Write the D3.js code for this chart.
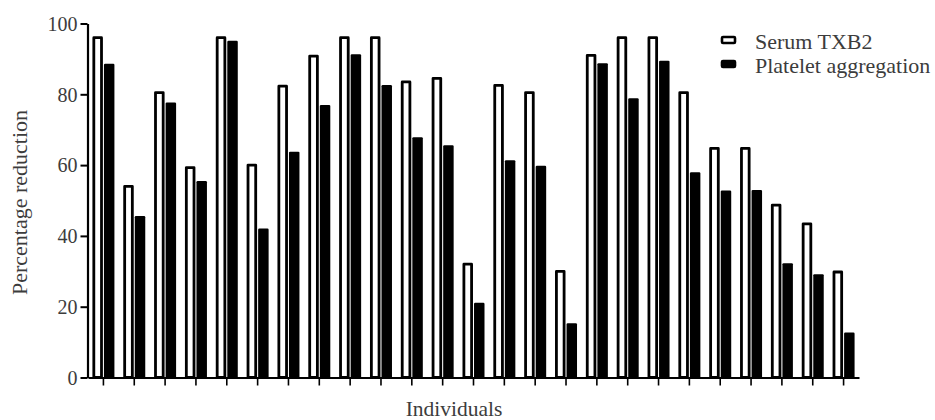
<!DOCTYPE html>
<html>
<head>
<meta charset="utf-8">
<script src="https://cdn.jsdelivr.net/npm/d3@7"></script>
<style>
  html, body { margin: 0; padding: 0; background: #fff; }
</style>
</head>
<body>
<svg id="chart" width="935" height="420"></svg>
<script>
// Percentage reduction per individual
const individuals = d3.range(1, 26).map(String);
const serumTXB2 = [96, 54, 80.5, 59.3, 96, 60, 82.3, 90.8, 96, 96, 83.5, 84.5, 32, 82.5, 80.5, 30, 91, 96, 96, 80.5, 64.7, 64.7, 48.7, 43.4, 29.8];
const plateletAggregation = [88.6, 45.6, 77.7, 55.5, 95.1, 42.1, 63.8, 77, 91.3, 82.6, 67.9, 65.6, 21.1, 61.4, 59.8, 15.3, 88.8, 78.9, 89.5, 58, 52.8, 53, 32.3, 29.2, 12.7];
const seriesNames = ["Serum TXB2", "Platelet aggregation"];
const yTicks = [0, 20, 40, 60, 80, 100];

const FONT = "'Liberation Serif', 'DejaVu Serif', serif";
const TEXT_COLOR = "#3c3c3c";

const svg = d3.select("#chart");
const plot = { left: 88, right: 859, top: 23.5, bottom: 377.5 };

const x = d3.scaleBand().domain(individuals).range([plot.left, plot.right]);
const xSub = d3.scaleBand().domain(seriesNames).range([-11, 11]).paddingInner(0.09);
const y = d3.scaleLinear().domain([0, 100]).range([plot.bottom, plot.top]);

const rows = individuals.map((id, i) => ({ id, values: [serumTXB2[i], plateletAggregation[i]] }));

// bars
const groups = svg.append("g").selectAll("g").data(rows).join("g")
  .attr("transform", d => `translate(${x(d.id) + x.bandwidth() / 2},0)`);

groups.each(function (d) {
  const g = d3.select(this);
  // open bar: Serum TXB2
  const sw = 2.8;
  g.append("rect")
    .attr("x", xSub(seriesNames[0]) + sw / 2)
    .attr("width", xSub.bandwidth() - sw)
    .attr("y", y(d.values[0]))
    .attr("height", y(0) - y(d.values[0]))
    .attr("fill", "#fff").attr("stroke", "#000")
    .attr("stroke-width", sw).attr("stroke-linejoin", "round");
  // filled bar: Platelet aggregation
  g.append("rect")
    .attr("x", xSub(seriesNames[1]))
    .attr("width", xSub.bandwidth())
    .attr("y", y(d.values[1]))
    .attr("height", y(0) - y(d.values[1]))
    .attr("rx", 1.2)
    .attr("fill", "#000");
});

// y axis
const yAxis = svg.append("g")
  .attr("transform", `translate(${plot.left - 0.5},0)`)
  .call(d3.axisLeft(y).tickValues(yTicks).tickSize(7).tickPadding(3).tickSizeOuter(0));
yAxis.select(".domain").attr("stroke", "#000").attr("stroke-width", 2.2);
yAxis.selectAll(".tick line").attr("stroke", "#000").attr("stroke-width", 2);
yAxis.selectAll(".tick text")
  .style("font-family", FONT).style("font-size", "20px").style("fill", TEXT_COLOR)
  .attr("dy", "0.34em");

// x axis
const xAxis = svg.append("g")
  .attr("transform", `translate(0,${plot.bottom})`)
  .call(d3.axisBottom(x).tickSize(8).tickSizeOuter(0).tickFormat(""));
xAxis.select(".domain").attr("stroke", "#000").attr("stroke-width", 2);
xAxis.selectAll(".tick line").attr("stroke", "#000").attr("stroke-width", 1.6);

// axis titles
svg.append("text")
  .attr("transform", `translate(27,${(plot.top + plot.bottom) / 2 + 2}) rotate(-90)`)
  .attr("text-anchor", "middle")
  .style("font-family", FONT).style("font-size", "22px").style("fill", TEXT_COLOR)
  .text("Percentage reduction");
svg.append("text")
  .attr("x", 454).attr("y", 416)
  .attr("text-anchor", "middle")
  .style("font-family", FONT).style("font-size", "21.5px").style("fill", TEXT_COLOR)
  .text("Individuals");

// legend
const legend = svg.append("g").attr("transform", "translate(722,0)");
const legendRows = legend.selectAll("g").data(seriesNames).join("g")
  .attr("transform", (d, i) => `translate(0,${40 + i * 24})`);
legendRows.append("rect")
  .attr("x", 0).attr("y", -3).attr("width", 13).attr("height", 6)
  .attr("rx", 1)
  .attr("fill", (d, i) => i === 0 ? "#fff" : "#000")
  .attr("stroke", "#000").attr("stroke-width", 2.6).attr("stroke-linejoin", "round");
legendRows.append("text")
  .attr("x", 33).attr("y", 8.5)
  .style("font-family", FONT).style("font-size", "22px").style("fill", TEXT_COLOR)
  .text(d => d);
</script>
</body>
</html>
